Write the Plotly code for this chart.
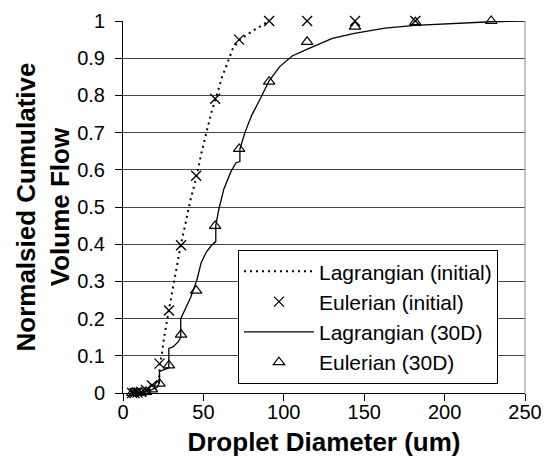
import plotly.graph_objects as go

# Eulerian bin diameters (um)
eul_x = [5.7, 7.2, 9.0, 11.3, 14.3, 18.0, 22.7, 28.6, 36.1, 45.5, 57.3, 72.2, 90.9, 114.5, 144.3, 181.8, 229.0]
eul_init_y = [0.0, 0.0, 0.001, 0.003, 0.008, 0.02, 0.079, 0.222, 0.397, 0.584, 0.791, 0.950, 1.0, 1.0, 1.0, 1.0]
eul_30d_y = [0.0, 0.0, 0.0, 0.001, 0.003, 0.01, 0.025, 0.074, 0.157, 0.275, 0.449, 0.656, 0.837, 0.944, 0.985, 0.997, 1.0]

# Lagrangian (initial) curve
lag_init_x = [5.0, 10.0, 14.8, 19.2, 22.4, 22.9, 24.2, 25.7, 28.5, 31.1, 33.3, 35.9, 38.8, 42.0, 45.9, 48.6,
              51.8, 55.1, 57.7, 61.6, 64.9, 68.2, 72.7, 80.1, 90.8]
lag_init_y = [0.0, 0.001, 0.004, 0.016, 0.03, 0.077, 0.105, 0.153, 0.222, 0.284, 0.341, 0.397, 0.454, 0.52, 0.584, 0.642,
              0.699, 0.756, 0.791, 0.849, 0.887, 0.925, 0.95, 0.972, 1.0]

# Lagrangian (30D) curve (step-like)
lag_30d_x = [5.0, 12.0, 17.0, 21.3, 22.7, 22.7, 25.7, 28.5, 28.5, 31.1, 34.4, 35.9, 35.9, 38.8, 42.0, 45.9, 48.6,
             51.8, 55.1, 57.7, 57.7, 59.5, 62.7, 67.1, 70.3, 72.7, 72.7, 75.8, 80.1, 85.6, 91.0, 97.6, 105.2,
             115.0, 130.2, 143.9, 162.9, 181.6, 206.4, 229.0, 250.0]
lag_30d_y = [0.0, 0.002, 0.007, 0.016, 0.028, 0.058, 0.063, 0.068, 0.12, 0.124, 0.138, 0.15, 0.2, 0.228, 0.256, 0.303, 0.35,
             0.379, 0.397, 0.407, 0.45, 0.492, 0.548, 0.595, 0.619, 0.622, 0.656, 0.7, 0.747, 0.793, 0.84, 0.878, 0.906,
             0.925, 0.953, 0.967, 0.981, 0.988, 0.994, 0.998, 1.0]

FONT = "Liberation Sans, Arial, sans-serif"

fig = go.Figure()
fig.add_trace(go.Scatter(x=lag_init_x, y=lag_init_y, mode="lines", name="Lagrangian (initial)",
                         line=dict(color="black", width=2, dash="2px,4px"), cliponaxis=False))
fig.add_trace(go.Scatter(x=eul_x[:len(eul_init_y)], y=eul_init_y, mode="markers", name="Eulerian (initial)",
                         marker=dict(symbol="x-thin", size=10, color="black", line=dict(color="black", width=1.3)),
                         cliponaxis=False))
fig.add_trace(go.Scatter(x=lag_30d_x, y=lag_30d_y, mode="lines", name="Lagrangian (30D)",
                         line=dict(color="black", width=1.3), cliponaxis=False))
fig.add_trace(go.Scatter(x=eul_x, y=eul_30d_y, mode="markers", name="Eulerian (30D)",
                         marker=dict(symbol="triangle-up-open", size=10, color="black", line=dict(color="black", width=1.2)),
                         cliponaxis=False))

fig.update_layout(
    width=546, height=457,
    margin=dict(l=123, r=21, t=21, b=64, autoexpand=False),
    paper_bgcolor="white", plot_bgcolor="white",
    font=dict(family=FONT, size=20, color="black"),
    showlegend=True,
    legend=dict(x=0.286, y=0.384, xanchor="left", yanchor="top",
                bgcolor="white", bordercolor="black", borderwidth=1,
                font=dict(family=FONT, size=21, color="black"),
                itemwidth=70, tracegroupgap=0),
    xaxis=dict(range=[0, 250], dtick=50, tick0=0, showgrid=False, zeroline=False,
               showline=True, linecolor="black", linewidth=1, automargin=True,
               ticks="outside", ticklen=7, tickcolor="black", ticklabelstandoff=-6,
               tickfont=dict(family=FONT, size=20, color="black"),
               title=dict(text="<b>Droplet Diameter (um)</b>", font=dict(family=FONT, size=26, color="black"),
                          standoff=16)),
    yaxis=dict(range=[0, 1], dtick=0.1, tick0=0, showgrid=True, gridcolor="#444444", gridwidth=1,
               zeroline=False, showline=True, linecolor="black", linewidth=1, automargin=False,
               ticks="outside", ticklen=7, tickcolor="black", ticklabelstandoff=6,
               tickfont=dict(family=FONT, size=20, color="black"),
               title=dict(text="<b>Normalsied Cumulative<br>Volume Flow</b>",
                          font=dict(family=FONT, size=26, color="black"), standoff=0)),
    shapes=[dict(type="line", xref="paper", yref="paper", x0=1, x1=1, y0=0, y1=1,
                 line=dict(color="#888888", width=1))],
)

fig.write_html("out.html")
